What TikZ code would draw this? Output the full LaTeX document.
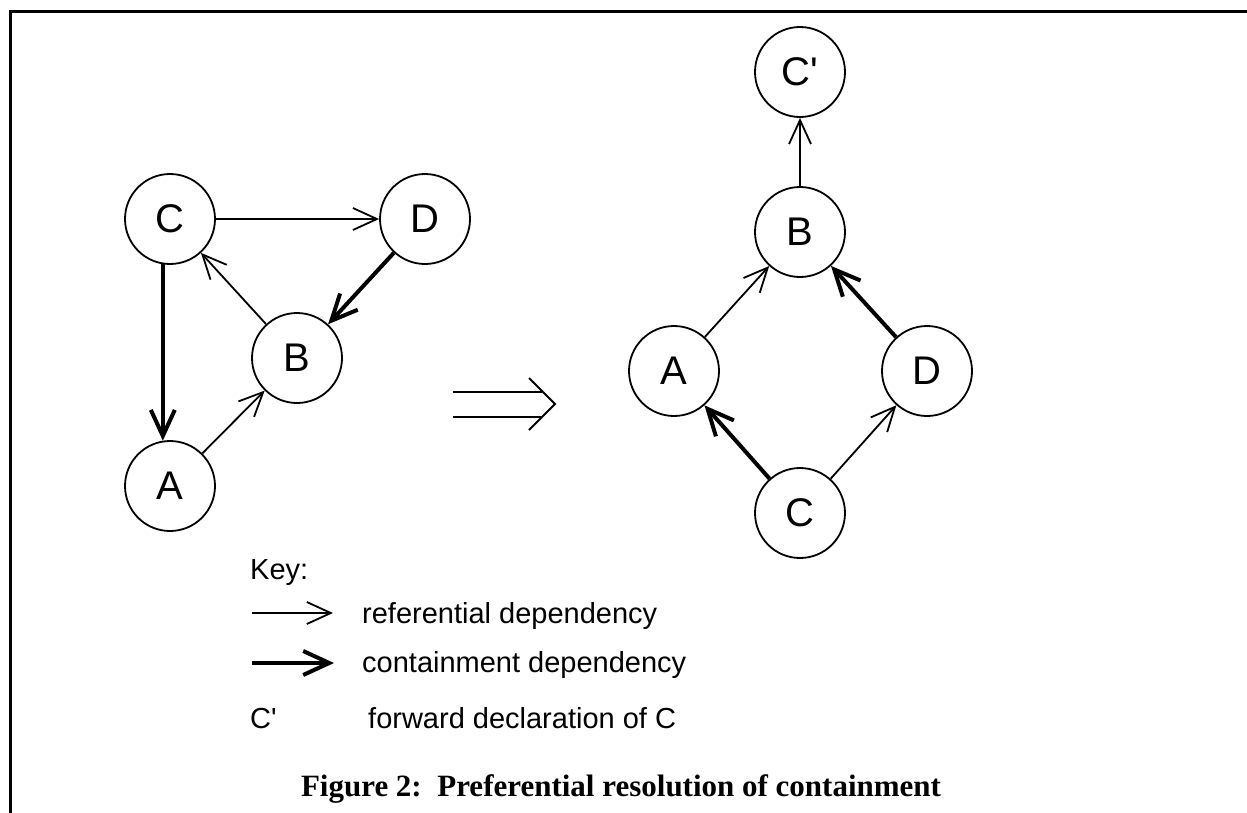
\documentclass[tikz,border=0pt]{standalone}
\usepackage{fontspec}
\setmainfont{Liberation Serif}
\newfontfamily\arialf{Liberation Sans}[Ligatures=ResetAll]
\usetikzlibrary{arrows.meta}
\begin{document}
\begin{tikzpicture}[x=1pt,y=-1pt,
  gnode/.style={circle,draw,line width=1.8pt,minimum size=90pt,inner sep=0pt,font=\arialf\fontsize{40}{44}\selectfont},
  ref/.style={line width=1.8pt,-{Straight Barb[length=24pt,width=22pt]}},
  cont/.style={line width=4pt,-{Straight Barb[length=26pt,width=24pt]}},
  keytext/.style={anchor=base west,inner sep=0pt,font=\arialf\fontsize{29}{32}\selectfont},
  plain/.style={line width=1.8pt}]
\useasboundingbox (0,0) rectangle (1247,812);
\fill[white] (0,0) rectangle (1247,812);
\draw[line width=3pt] (10,820) -- (10,11) -- (1255,11);
% left graph
\node[gnode] (C1) at (170,219) {C};
\node[gnode] (D1) at (425,219) {D};
\node[gnode] (B1) at (297,358) {B};
\node[gnode] (A1) at (170,486) {A};
\draw[ref] (C1) -- (D1);
\draw[ref] (B1) -- (C1);
\draw[cont] (D1) -- (B1);
\draw[cont] (C1.261) -- (A1.99);
\draw[ref] (A1) -- (B1);
% right graph
\node[gnode] (Cp) at (800,72) {C'};
\node[gnode] (B2) at (800,232) {B};
\node[gnode] (A2) at (674,371) {A};
\node[gnode] (D2) at (927,371) {D};
\node[gnode] (C2) at (800,513) {C};
\draw[ref] (B2) -- (Cp);
\draw[ref] (A2) -- (B2);
\draw[cont] (D2) -- (B2);
\draw[cont] (C2) -- (A2);
\draw[ref] (C2) -- (D2);
% implies arrow
\draw[plain] (453,392) -- (542,392);
\draw[plain] (453,417) -- (542,417);
\draw[plain,line join=miter] (529,378) -- (555,404) -- (529,430);
% key
\node[keytext] (key) at (250,579) {Key:};
\coordinate (r1) at (252,613);
\coordinate (r2) at (333,613);
\draw[ref] (r1) -- (r2);
\node[keytext] (reft) at (362,623) {referential dependency};
\coordinate (c1) at (252,663);
\coordinate (c2) at (334,663);
\draw[cont] (c1) -- (c2);
\node[keytext] (cont) at (362,672) {containment dependency};
\node[keytext] (cpk) at (250,728) {C'};
\node[keytext] (fwd) at (368,728) {forward declaration of C};
\node[anchor=base,inner sep=0pt,font=\bfseries\fontsize{31}{34}\selectfont] (cap) at (621,796) {Figure 2:\ \ Preferential resolution of containment};
\end{tikzpicture}
\end{document}
